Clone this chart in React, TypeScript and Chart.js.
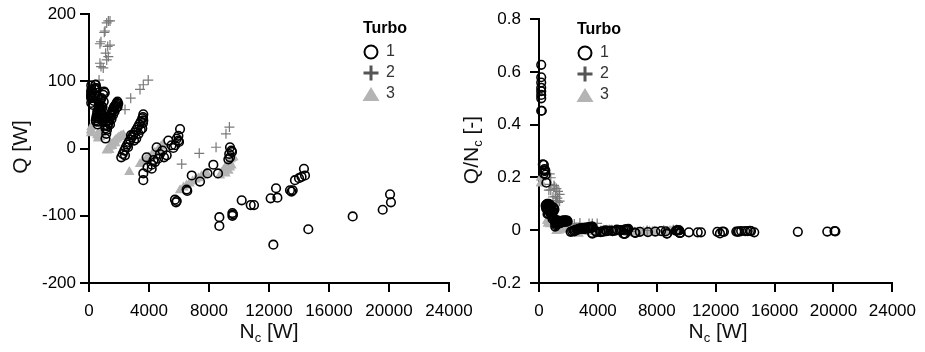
import { useEffect, useRef } from 'react';
import { Chart, registerables } from 'chart.js';

Chart.register(...registerables);

const FONT = '"Liberation Sans", Arial, Helvetica, sans-serif';

// ---------- DATA ----------
const xTickValues = [0, 4000, 8000, 12000, 16000, 20000, 24000];
const legendTitle = 'Turbo';
const seriesNames = ['1', '2', '3'];

// Left panel: N_c [W] vs Q [W]
const turbo1Q: [number, number][] = [
  [150, 94], [150, 87], [150, 84], [150, 81], [150, 79], [150, 77], [150, 75], [150, 68],
  [190, 86], [260, 65], [330, 82], [330, 75], [330, 71], [450, 95], [500, 90], [550, 55], [600, 48], [480, 40],
  [400, 90], [420, 95], [380, 88], [480, 46], [520, 50], [560, 45], [620, 58], [640, 40], [580, 36], [450, 42],
  [660, 66], [680, 60], [700, 68], [720, 62], [730, 50], [750, 57], [760, 72], [780, 54], [800, 64], [820, 50],
  [830, 75], [850, 58], [880, 48], [900, 62], [920, 40], [950, 80], [980, 70], [1000, 85], [1000, 45], [1050, 83], [1080, 35],
  [1100, 15], [1150, 22], [1200, 28], [1250, 33], [1300, 38], [1350, 42], [1400, 46], [1450, 50], [1500, 53], [1550, 56],
  [1600, 58], [1650, 61], [1700, 63], [1750, 64], [1800, 66], [1850, 68], [1900, 70], [1950, 67], [1200, 40], [1300, 48],
  [1400, 36], [1500, 44], [1600, 50], [1700, 55], [1800, 60], [1900, 62], [1100, 30], [1150, 45],
  [2150, -13], [2250, -8], [2350, -3], [2450, 2], [2550, 6], [2650, 10], [2750, 13], [2850, 17], [2950, 20], [3050, 24],
  [3150, 28], [3250, 32], [3350, 36], [3450, 40], [3550, 45], [3620, 51], [3600, 38], [3550, 30], [3450, 28], [3300, 22],
  [3150, 15], [3000, 12], [2800, 20], [2600, 2], [2400, -10], [3620, 42], [3600, 47],
  [3620, -47], [3620, -37], [3840, -13], [4180, -30], [4180, -24], [3900, -28], [4400, -20], [4510, 2], [4730, -8],
  [4600, -15], [4900, -3], [5000, -13], [5180, -10], [5290, 12], [5500, 5], [5620, 1], [5740, 5], [5850, 15], [5960, 19],
  [5960, 12], [6070, 29], [6000, 10], [4300, -17],
  [5730, -76], [5850, -78], [5800, -80], [6510, -61], [6550, -63], [6850, -40], [7400, -49], [7900, -37], [8290, -24],
  [8600, -37], [9400, 2], [9530, -5], [9400, -13], [9290, -16], [9500, -3], [9350, -8],
  [8690, -102], [8690, -115], [9560, -96], [9560, -100], [9600, -98], [10180, -77], [10780, -84], [11000, -84],
  [12110, -74], [12290, -143], [12470, -59], [12560, -73], [13400, -62], [13580, -62], [13500, -64], [13730, -47],
  [14000, -44], [14170, -42], [14330, -30], [14400, -40], [14620, -120], [17580, -101], [19580, -91], [20070, -68], [20130, -80],
];

const turbo2Q: [number, number][] = [
  [1400, 190], [1290, 190], [1180, 187], [1020, 173], [1070, 175], [800, 159], [730, 156], [1400, 154], [1245, 152],
  [1110, 142], [1290, 137], [1180, 132], [730, 127], [800, 122], [950, 120], [670, 102], [2400, 58], [2780, 75],
  [3400, 88], [3620, 95], [3950, 102], [6180, -23], [7350, -7], [8470, 2], [9130, 22], [9360, 32],
];

const turbo3Q: [number, number][] = [
  [140, 28], [150, 27], [160, 32], [130, 23], [550, 20], [600, 22], [650, 18], [700, 25], [750, 17], [800, 28], [850, 22], [600, 15],
  [1180, -3], [1300, 0], [1350, -2], [1400, 3], [1500, 6], [1550, 4], [1600, 8], [1700, 11], [1750, 8], [1800, 13],
  [1900, 15], [2000, 17], [2100, 18], [2200, 19], [2300, 20],
  [2690, -35],
  [3400, -23], [3600, -20], [3800, -16], [4000, -13], [4200, -9], [4300, -12], [4400, -6], [4600, -2], [4700, -4], [4800, 3], [4950, 7],
  [6070, -62], [6300, -58], [6500, -55], [6700, -52], [6900, -49], [7100, -46], [7300, -44], [7500, -41], [7700, -39], [7850, -37],
  [8730, -40], [8850, -36], [8950, -33], [9050, -30], [9100, -37], [9150, -26], [9250, -22], [9300, -33], [9350, -19],
  [9400, -28], [9450, -16], [9500, -25], [9550, -14], [9620, -13],
];

// Right panel: N_c [W] vs Q/N_c [-]
const turbo1R: [number, number][] = [
  [150, 0.627], [150, 0.58], [150, 0.56], [150, 0.54], [150, 0.527], [150, 0.513], [150, 0.5], [150, 0.453],
  [190, 0.453], [260, 0.25], [330, 0.248], [330, 0.227], [330, 0.215], [450, 0.211], [500, 0.18], [550, 0.1], [600, 0.08], [480, 0.083],
  [400, 0.225], [420, 0.226], [380, 0.232], [480, 0.096], [520, 0.096], [560, 0.08], [620, 0.094], [640, 0.063], [580, 0.062], [450, 0.093],
  [660, 0.1], [680, 0.088], [700, 0.097], [720, 0.086], [730, 0.068], [750, 0.076], [760, 0.095], [780, 0.069], [800, 0.08], [820, 0.061],
  [830, 0.09], [850, 0.068], [880, 0.055], [900, 0.069], [920, 0.043], [950, 0.084], [980, 0.071], [1000, 0.085], [1000, 0.045], [1050, 0.079], [1080, 0.032],
  [1100, 0.014], [1150, 0.019], [1200, 0.023], [1250, 0.026], [1300, 0.029], [1350, 0.031], [1400, 0.033], [1450, 0.034], [1500, 0.035], [1550, 0.036],
  [1600, 0.036], [1650, 0.037], [1700, 0.037], [1750, 0.037], [1800, 0.037], [1850, 0.037], [1900, 0.037], [1950, 0.034], [1200, 0.033], [1300, 0.037],
  [1400, 0.026], [1500, 0.029], [1600, 0.031], [1700, 0.032], [1800, 0.033], [1900, 0.033], [1100, 0.027], [1150, 0.039],
  [2150, -0.006], [2250, -0.004], [2350, -0.001], [2450, 0.001], [2550, 0.002], [2650, 0.004], [2750, 0.005], [2850, 0.006], [2950, 0.007], [3050, 0.008],
  [3150, 0.009], [3250, 0.01], [3350, 0.011], [3450, 0.012], [3550, 0.013], [3620, 0.014], [3600, 0.011], [3550, 0.008], [3450, 0.008], [3300, 0.007],
  [3150, 0.005], [3000, 0.004], [2800, 0.007], [2600, 0.001], [2400, -0.004], [3620, 0.012], [3600, 0.013],
  [3620, -0.013], [3620, -0.01], [3840, -0.003], [4180, -0.007], [4180, -0.006], [3900, -0.007], [4400, -0.005], [4510, 0], [4730, -0.002],
  [4600, -0.003], [4900, -0.001], [5000, -0.003], [5180, -0.002], [5290, 0.002], [5500, 0.001], [5620, 0], [5740, 0.001], [5850, 0.003], [5960, 0.003],
  [5960, 0.002], [6070, 0.005], [6000, 0.002], [4300, -0.004],
  [5730, -0.013], [5850, -0.013], [5800, -0.014], [6510, -0.009], [6550, -0.01], [6850, -0.006], [7400, -0.007], [7900, -0.005], [8290, -0.003],
  [8600, -0.004], [9400, 0], [9530, -0.001], [9400, -0.001], [9290, -0.002], [9500, 0], [9350, -0.001],
  [8690, -0.012], [8690, -0.013], [9560, -0.01], [9560, -0.01], [9600, -0.01], [10180, -0.008], [10780, -0.008], [11000, -0.008],
  [12110, -0.006], [12290, -0.012], [12470, -0.005], [12560, -0.006], [13400, -0.005], [13580, -0.005], [13500, -0.005], [13730, -0.003],
  [14000, -0.003], [14170, -0.003], [14330, -0.002], [14400, -0.003], [14620, -0.008], [17580, -0.006], [19580, -0.005], [20070, -0.003], [20130, -0.004],
];

const turbo2R: [number, number][] = [
  [1400, 0.136], [1290, 0.147], [1180, 0.158], [1020, 0.17], [1070, 0.164], [800, 0.199], [730, 0.214], [1400, 0.11], [1245, 0.122],
  [1110, 0.128], [1290, 0.106], [1180, 0.112], [730, 0.174], [800, 0.153], [950, 0.126], [670, 0.152], [2400, 0.024], [2780, 0.027],
  [3400, 0.026], [3620, 0.026], [3950, 0.026], [6180, -0.004], [7350, -0.001], [8470, 0], [9130, 0.002], [9360, 0.003],
];

const turbo3R: [number, number][] = [
  [140, 0.2], [150, 0.18], [160, 0.2], [130, 0.177], [550, 0.036], [600, 0.037], [650, 0.028], [700, 0.036], [750, 0.023], [800, 0.035], [850, 0.026], [600, 0.025],
  [1180, -0.003], [1300, 0], [1350, -0.001], [1400, 0.002], [1500, 0.004], [1550, 0.003], [1600, 0.005], [1700, 0.006], [1750, 0.005], [1800, 0.007],
  [1900, 0.008], [2000, 0.009], [2100, 0.009], [2200, 0.009], [2300, 0.009],
  [2690, -0.013],
  [3400, -0.007], [3600, -0.006], [3800, -0.004], [4000, -0.003], [4200, -0.002], [4300, -0.003], [4400, -0.001], [4600, 0], [4700, -0.001], [4800, 0.001], [4950, 0.001],
  [6070, -0.01], [6300, -0.009], [6500, -0.008], [6700, -0.008], [6900, -0.007], [7100, -0.006], [7300, -0.006], [7500, -0.005], [7700, -0.005], [7850, -0.005],
  [8730, -0.005], [8850, -0.004], [8950, -0.004], [9050, -0.003], [9100, -0.004], [9150, -0.003], [9250, -0.002], [9300, -0.004], [9350, -0.002],
  [9400, -0.003], [9450, -0.002], [9500, -0.003], [9550, -0.001], [9620, -0.001],
];

// ---------- STYLE ----------
const C1 = '#000000';
const C2 = '#7a7a7a';
const C2_LEG = '#555555';
const C3 = '#b4b4b4';

type Part = { text: string; sub?: boolean };

function drawRich(ctx: CanvasRenderingContext2D, parts: Part[], x: number, y: number, rotate: boolean) {
  ctx.save();
  ctx.translate(x, y);
  if (rotate) ctx.rotate(-Math.PI / 2);
  const fontMain = `21px ${FONT}`;
  const fontSub = `13px ${FONT}`;
  let total = 0;
  const widths = parts.map((p) => {
    ctx.font = p.sub ? fontSub : fontMain;
    const w = ctx.measureText(p.text).width;
    total += w;
    return w;
  });
  let cx = -total / 2;
  ctx.textBaseline = 'middle';
  ctx.textAlign = 'left';
  ctx.fillStyle = '#111';
  parts.forEach((p, i) => {
    ctx.font = p.sub ? fontSub : fontMain;
    ctx.fillText(p.text, cx, p.sub ? 6 : 0);
    cx += widths[i];
  });
  ctx.restore();
}

function drawLegend(ctx: CanvasRenderingContext2D, lx: number, ly: number) {
  ctx.save();
  ctx.textBaseline = 'middle';
  ctx.textAlign = 'left';
  ctx.fillStyle = '#000';
  ctx.font = `bold 16px ${FONT}`;
  ctx.fillText(legendTitle, lx, ly);
  const mx = lx + 8;
  const y1 = ly + 23;
  const y2 = ly + 44;
  const y3 = ly + 65;
  ctx.beginPath();
  ctx.strokeStyle = C1;
  ctx.lineWidth = 2;
  ctx.arc(mx, y1, 6.5, 0, Math.PI * 2);
  ctx.stroke();
  ctx.beginPath();
  ctx.strokeStyle = C2_LEG;
  ctx.lineWidth = 3;
  ctx.moveTo(mx - 7.5, y2);
  ctx.lineTo(mx + 7.5, y2);
  ctx.moveTo(mx, y2 - 7.5);
  ctx.lineTo(mx, y2 + 7.5);
  ctx.stroke();
  ctx.beginPath();
  ctx.fillStyle = C3;
  ctx.moveTo(mx, y3 - 7);
  ctx.lineTo(mx + 8.5, y3 + 7);
  ctx.lineTo(mx - 8.5, y3 + 7);
  ctx.closePath();
  ctx.fill();
  ctx.fillStyle = '#333';
  ctx.font = `16px ${FONT}`;
  ctx.fillText(seriesNames[0], lx + 23, y1);
  ctx.fillText(seriesNames[1], lx + 23, y2);
  ctx.fillText(seriesNames[2], lx + 23, y3);
  ctx.restore();
}

interface PanelOpts {
  d1: [number, number][];
  d2: [number, number][];
  d3: [number, number][];
  yMin: number;
  yMax: number;
  yStep: number;
  padLeft: number;
  padRight: number;
  yAxisWidth: number;
  yLabelPad: number;
  yTitle: Part[];
  yTitlePos: [number, number];
  xTitlePos: [number, number];
  legendPos: [number, number];
}

function makeConfig(o: PanelOpts): any {
  const tickFont = { family: FONT, size: 17 };
  const toPts = (d: [number, number][]) => d.map(([x, y]) => ({ x, y }));
  const overlay = {
    id: 'overlay',
    afterDraw(chart: any) {
      const ctx = chart.ctx as CanvasRenderingContext2D;
      drawRich(ctx, [{ text: 'N' }, { text: 'c', sub: true }, { text: ' [W]' }], o.xTitlePos[0], o.xTitlePos[1], false);
      drawRich(ctx, o.yTitle, o.yTitlePos[0], o.yTitlePos[1], true);
      drawLegend(ctx, o.legendPos[0], o.legendPos[1]);
    },
  };
  return {
    type: 'scatter',
    data: {
      datasets: [
        {
          label: seriesNames[0],
          data: toPts(o.d1),
          pointStyle: 'circle',
          pointRadius: 4.3,
          borderColor: C1,
          backgroundColor: 'rgba(0,0,0,0)',
          borderWidth: 1.6,
          clip: false,
          order: 1,
        },
        {
          label: seriesNames[1],
          data: toPts(o.d2),
          pointStyle: 'cross',
          pointRadius: 5,
          borderColor: C2,
          backgroundColor: C2,
          borderWidth: 1.2,
          clip: false,
          order: 2,
        },
        {
          label: seriesNames[2],
          data: toPts(o.d3),
          pointStyle: 'triangle',
          pointRadius: 6,
          borderColor: C3,
          backgroundColor: C3,
          borderWidth: 0,
          clip: false,
          order: 3,
        },
      ],
    },
    options: {
      responsive: false,
      animation: false,
      devicePixelRatio: 1,
      events: [],
      layout: { padding: { left: o.padLeft, right: o.padRight, top: 12, bottom: 0 } },
      plugins: { legend: { display: false }, tooltip: { enabled: false } },
      scales: {
        x: {
          type: 'linear',
          min: xTickValues[0],
          max: xTickValues[xTickValues.length - 1],
          afterBuildTicks: (s: any) => {
            s.ticks = xTickValues.map((v) => ({ value: v }));
          },
          ticks: {
            font: tickFont,
            color: '#000',
            padding: 9,
            maxRotation: 0,
            autoSkip: false,
            callback: (v: any) => String(v),
          },
          grid: { display: true, drawOnChartArea: false, drawTicks: true, tickLength: 9, color: '#000', lineWidth: 2 },
          border: { display: true, color: '#000', width: 2 },
          afterFit: (s: any) => {
            s.height = 69;
          },
        },
        y: {
          type: 'linear',
          min: o.yMin,
          max: o.yMax,
          ticks: {
            stepSize: o.yStep,
            font: tickFont,
            color: '#000',
            padding: o.yLabelPad,
            callback: (v: any) => String(Math.round(Number(v) * 10) / 10),
          },
          grid: { display: true, drawOnChartArea: false, drawTicks: true, tickLength: 9, color: '#000', lineWidth: 2 },
          border: { display: true, color: '#000', width: 2 },
          afterFit: (s: any) => {
            s.width = o.yAxisWidth;
          },
        },
      },
    },
    plugins: [overlay],
  };
}

export default function App() {
  const leftRef = useRef<HTMLCanvasElement>(null);
  const rightRef = useRef<HTMLCanvasElement>(null);

  useEffect(() => {
    const left = new Chart(
      leftRef.current!,
      makeConfig({
        d1: turbo1Q,
        d2: turbo2Q,
        d3: turbo3Q,
        yMin: -200,
        yMax: 200,
        yStep: 100,
        padLeft: 0,
        padRight: 925 - 449,
        yAxisWidth: 89,
        yLabelPad: 4,
        yTitle: [{ text: 'Q [W]' }],
        yTitlePos: [21, 147],
        xTitlePos: [269, 332],
        legendPos: [363, 29],
      })
    );
    const right = new Chart(
      rightRef.current!,
      makeConfig({
        d1: turbo1R,
        d2: turbo2R,
        d3: turbo3R,
        yMin: -0.2,
        yMax: 0.8,
        yStep: 0.2,
        padLeft: 460,
        padRight: 925 - 898,
        yAxisWidth: 79,
        yLabelPad: 9,
        yTitle: [{ text: 'Q/N' }, { text: 'c', sub: true }, { text: ' [-]' }],
        yTitlePos: [472, 150],
        xTitlePos: [718, 332],
        legendPos: [577, 30],
      })
    );
    return () => {
      left.destroy();
      right.destroy();
    };
  }, []);

  const canvasStyle: any = { position: 'absolute', left: 0, top: 0, width: 925, height: 352 };
  return (
    <div style={{ position: 'fixed', left: 0, top: 0, width: 925, height: 352, background: '#fff' }}>
      <canvas ref={leftRef} width={925} height={352} style={canvasStyle} />
      <canvas ref={rightRef} width={925} height={352} style={canvasStyle} />
    </div>
  );
}
